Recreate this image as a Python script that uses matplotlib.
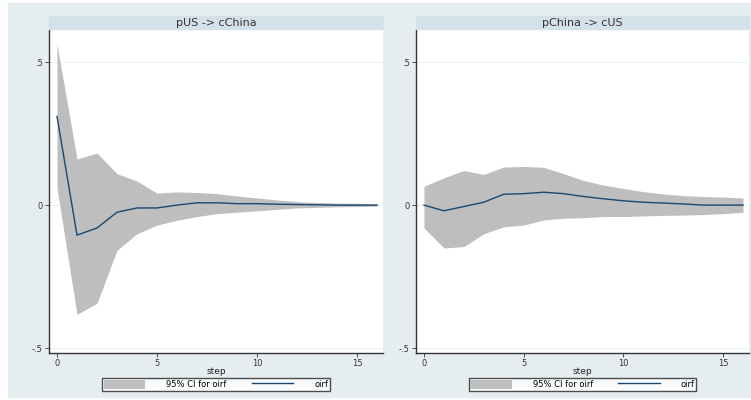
import numpy as np
import matplotlib.pyplot as plt
from matplotlib.patches import Rectangle, Patch
from matplotlib.lines import Line2D

# impulse response steps
steps = np.arange(0, 17)

# pUS -> cChina
us_cn_oirf = [0.31, -0.105, -0.08, -0.025, -0.01, -0.01, 0.0, 0.008, 0.008,
              0.005, 0.005, 0.003, 0.002, 0.001, 0.0, 0.0, 0.0]
us_cn_upper = [0.563, 0.161, 0.182, 0.11, 0.084, 0.042, 0.046, 0.044, 0.04,
               0.032, 0.025, 0.018, 0.012, 0.009, 0.007, 0.006, 0.005]
us_cn_lower = [0.06, -0.382, -0.343, -0.158, -0.1, -0.07, -0.053, -0.04, -0.03,
               -0.025, -0.02, -0.015, -0.01, -0.008, -0.006, -0.005, -0.004]

# pChina -> cUS
cn_us_oirf = [0.0, -0.02, -0.005, 0.01, 0.038, 0.04, 0.045, 0.04, 0.03,
              0.022, 0.015, 0.01, 0.007, 0.004, 0.0, 0.0, 0.0]
cn_us_upper = [0.066, 0.095, 0.121, 0.107, 0.133, 0.135, 0.132, 0.11, 0.086,
               0.07, 0.058, 0.047, 0.039, 0.033, 0.03, 0.028, 0.025]
cn_us_lower = [-0.08, -0.15, -0.145, -0.1, -0.076, -0.07, -0.052, -0.046, -0.044,
               -0.04, -0.04, -0.038, -0.036, -0.035, -0.033, -0.03, -0.025]

panels = [
    ("pUS -> cChina", us_cn_oirf, us_cn_upper, us_cn_lower),
    ("pChina -> cUS", cn_us_oirf, cn_us_upper, cn_us_lower),
]

yticks = [-0.5, 0, 0.5]
ytick_labels = ["-.5", "0", ".5"]
xticks = [0, 5, 10, 15]

bg = "#e6edf1"
strip = "#d5e1e9"
band = "#bebebe"
navy = "#1a476f"

fig = plt.figure(figsize=(7.51, 4.0), dpi=100, facecolor="white")
fig.patches.append(Rectangle((8 / 751, 3 / 400), 743 / 751, 394 / 400,
                             transform=fig.transFigure, color=bg, zorder=-1))

W, H = 751, 400
lefts = [49, 416]
rights = [383, 749]
top, bottom = 30, 353

for (title, oirf, up, lo), l, r in zip(panels, lefts, rights):
    ax = fig.add_axes([l / W, (H - bottom) / H, (r - l) / W, (bottom - top) / H])
    ax.set_facecolor("white")
    ax.fill_between(steps, lo, up, color=band, linewidth=0, zorder=2)
    ax.plot(steps, oirf, color=navy, lw=1.0, zorder=3)
    ax.set_xlim(-0.4, 16.3)
    ax.set_ylim(-0.517, 0.612)
    ax.set_yticks(yticks)
    ax.set_yticklabels(ytick_labels)
    ax.set_xticks(xticks)
    for y in yticks:
        ax.axhline(y, color="#e8f0f2", lw=0.8, zorder=1)
    for s in ["top", "right"]:
        ax.spines[s].set_visible(False)
    for s in ["left", "bottom"]:
        ax.spines[s].set_color("#333333")
        ax.spines[s].set_linewidth(1.0)
    ax.tick_params(labelsize=6, length=3, width=0.6, colors="#333333", pad=1.5)
    ax.set_xlabel("step", fontsize=6.5, labelpad=-1, color="#222222")

    # title strip
    fig.patches.append(Rectangle((l / W, (H - 29) / H), (r - l) / W, 13 / H,
                                 transform=fig.transFigure, color=strip, zorder=0))
    fig.text((l + r) / 2 / W, (H - 22.5) / H, title, ha="center", va="center",
             fontsize=8, color="#333333")

    handles = [Patch(facecolor=band, edgecolor="none"),
               Line2D([], [], color=navy, lw=1.0)]
    leg = fig.legend(handles, ["95% CI for oirf", "oirf"], ncol=2,
                     loc="center", bbox_to_anchor=((l + r) / 2 / W, (H - 384.5) / H),
                     fontsize=6, frameon=True, fancybox=False, handlelength=5,
                     handleheight=1.4, columnspacing=3, borderpad=0.2,
                     handletextpad=2.5)
    leg.get_frame().set_edgecolor("#222222")
    leg.get_frame().set_linewidth(1.0)

fig.savefig("out.png", dpi=100, facecolor=fig.get_facecolor())
